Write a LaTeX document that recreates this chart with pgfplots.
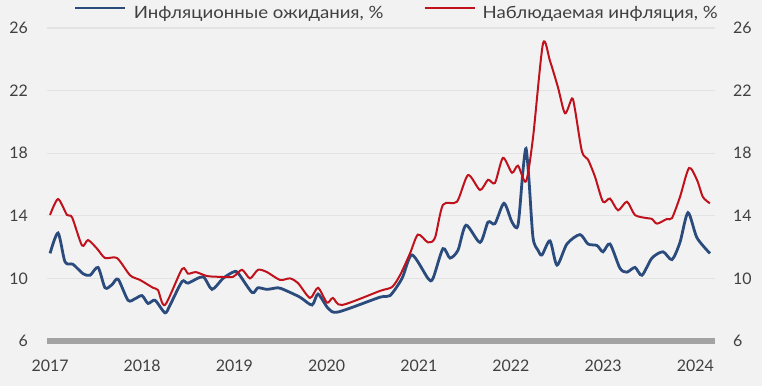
\documentclass[border=0pt]{standalone}
\usepackage{fontspec}
\setmainfont{Lato}
\newfontfamily\legfont[FakeStretch=1.1]{Lato}
\usepackage{pgfplots}
\pgfplotsset{compat=1.18}
\definecolor{bg}{HTML}{F2F2F2}
\definecolor{gridc}{HTML}{E3E3E3}
\definecolor{base}{HTML}{A3A3A3}
\definecolor{bl}{HTML}{2A4B7C}
\definecolor{rd}{HTML}{C0121C}
\definecolor{txt}{HTML}{404040}
\pgfplotstableread{
t v
2017.000 11.6
2017.087 12.9
2017.163 11.05
2017.249 10.9
2017.358 10.3
2017.434 10.2
2017.521 10.7
2017.597 9.4
2017.672 9.6
2017.738 9.95
2017.846 8.6
2017.922 8.7
2017.998 8.9
2018.063 8.4
2018.139 8.6
2018.247 7.8
2018.302 8.3
2018.432 9.8
2018.497 9.7
2018.659 10.1
2018.757 9.3
2018.876 10.0
2018.985 10.4
2019.039 10.35
2019.191 9.1
2019.256 9.4
2019.354 9.3
2019.473 9.4
2019.549 9.25
2019.711 8.8
2019.842 8.3
2019.907 9.0
2020.015 8.1
2020.124 7.85
2020.579 8.8
2020.688 8.9
2020.818 10.0
2020.926 11.5
2021.100 10.0
2021.154 10.0
2021.262 11.9
2021.338 11.3
2021.425 11.8
2021.512 13.4
2021.664 12.3
2021.751 13.6
2021.826 13.5
2021.924 14.8
2022.011 13.6
2022.076 13.4
2022.130 16.9
2022.163 18.3
2022.195 16.3
2022.239 12.6
2022.293 11.8
2022.336 11.5
2022.423 12.4
2022.499 10.85
2022.607 12.2
2022.748 12.8
2022.835 12.2
2022.933 12.1
2022.998 11.7
2023.074 12.2
2023.182 10.65
2023.258 10.4
2023.345 10.7
2023.421 10.2
2023.529 11.3
2023.649 11.7
2023.746 11.2
2023.833 12.3
2023.920 14.2
2024.017 12.6
2024.158 11.6
}\expect
\pgfplotstableread{
t v
2017.000 14.05
2017.087 15.07
2017.184 14.05
2017.239 13.9
2017.347 12.1
2017.412 12.45
2017.510 11.9
2017.597 11.3
2017.727 11.3
2017.868 10.2
2017.976 9.9
2018.117 9.4
2018.171 9.25
2018.247 8.3
2018.432 10.6
2018.497 10.3
2018.583 10.4
2018.703 10.15
2018.844 10.1
2018.985 10.1
2019.082 10.55
2019.169 10.0
2019.256 10.55
2019.354 10.4
2019.495 9.9
2019.603 10.0
2019.690 9.7
2019.820 8.75
2019.907 9.4
2020.004 8.45
2020.069 8.75
2020.167 8.3
2020.579 9.2
2020.709 9.45
2020.796 10.2
2020.905 11.6
2020.991 12.8
2021.100 12.3
2021.176 12.6
2021.262 14.7
2021.414 14.9
2021.534 16.6
2021.664 15.65
2021.751 16.3
2021.826 16.1
2021.913 17.7
2022.011 16.75
2022.076 17.2
2022.163 16.2
2022.239 19.0
2022.347 25.0
2022.423 23.9
2022.510 22.2
2022.586 20.55
2022.662 21.5
2022.694 20.8
2022.770 18.1
2022.835 17.6
2022.911 16.5
2022.998 14.9
2023.074 15.1
2023.161 14.35
2023.258 14.9
2023.345 14.05
2023.475 13.85
2023.529 13.8
2023.584 13.5
2023.692 13.8
2023.746 13.85
2023.833 15.2
2023.931 17.05
2024.017 16.3
2024.082 15.2
2024.158 14.8
}\observed
\begin{document}
\begin{tikzpicture}
\fill[bg] (0,0) rectangle (762bp,386bp);
\useasboundingbox (0,0) rectangle (762bp,386bp);
\begin{axis}[
  at={(47bp,45bp)}, anchor=south west,
  scale only axis, width=668bp, height=313bp,
  xmin=2016.967, xmax=2024.213, ymin=6, ymax=26,
  axis line style={draw=none},
  major tick length=0pt,
  xtick={2017,2018,2019,2020,2021,2022,2023,2024},
  xticklabels={2017,2018,2019,2020,2021,2022,2023,2024},
  ytick={6,10,14,18,22,26},
  ymajorgrids, grid style={gridc, line width=1.2bp},
  /pgf/number format/assume math mode=true,
  ticklabel style={font=\fontsize{16}{19}\selectfont, text=txt},
  xticklabel style={anchor=north, inner sep=0pt, yshift=-18.5bp},
  yticklabel style={anchor=east, inner sep=0pt, xshift=-19bp},
  clip=false,
  legend columns=2,
  legend style={at={(0.0404,1.048)}, anchor=west, draw=none, fill=none,
    inner sep=0pt, outer sep=0pt,
    font=\legfont\fontsize{17}{20}\selectfont, text=txt,
    nodes={inner sep=0pt},
    /tikz/every odd column/.append style={column sep=7bp},
    /tikz/every even column/.append style={column sep=40bp}},
  legend cell align=left,
  legend image code/.code={\draw[#1] (0bp,5bp) -- (50bp,5bp);},
]
\draw[base, line width=5.5bp] (rel axis cs:0,0) -- (rel axis cs:1,0);
\addplot[bl, line width=2.8bp, smooth, tension=0.45] table[x=t,y=v] {\expect};
\addlegendentry{Инфляционные ожидания, \%}
\addplot[rd, line width=2bp, smooth, tension=0.45] table[x=t,y=v] {\observed};
\addlegendentry{Наблюдаемая инфляция, \%}
\end{axis}
\begin{axis}[
  at={(47bp,45bp)}, anchor=south west,
  scale only axis, width=668bp, height=313bp,
  xmin=2016.967, xmax=2024.213, ymin=6, ymax=26,
  axis line style={draw=none},
  major tick length=0pt,
  xtick=\empty,
  ytick={6,10,14,18,22,26},
  ytick pos=right, yticklabel pos=right,
  /pgf/number format/assume math mode=true,
  ticklabel style={font=\fontsize{16}{19}\selectfont, text=txt},
  yticklabel style={anchor=west, inner sep=0pt, xshift=18bp},
]
\end{axis}
\end{tikzpicture}
\end{document}
